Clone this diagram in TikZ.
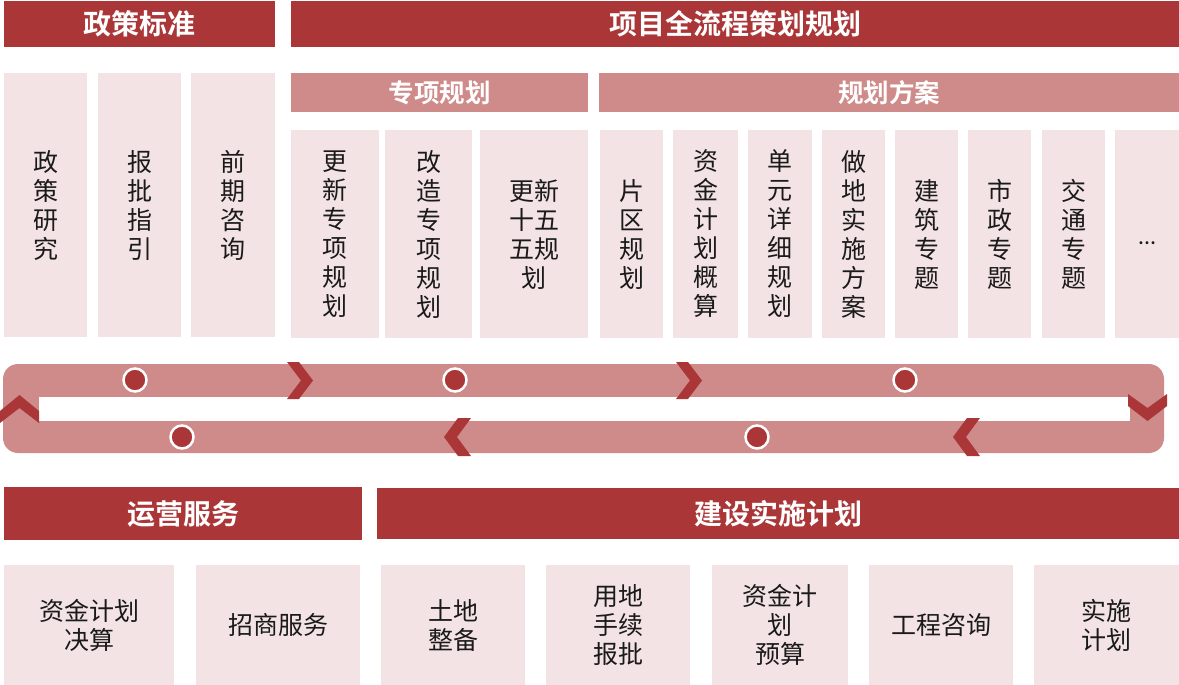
\documentclass[tikz,border=0pt]{standalone}
\usepackage{fontspec}
\setmainfont{Noto Sans CJK SC}[BoldFont={Noto Sans CJK SC Bold}]
\definecolor{dred}{HTML}{AB3637}
\definecolor{mpink}{HTML}{CF8A8A}
\definecolor{lpink}{HTML}{F3E3E4}
\definecolor{ink}{HTML}{1A1A1A}
\tikzset{
 base/.style={inner sep=0pt,outer sep=0pt,anchor=north west,align=center},
 mainbar/.style={base,fill=dred,text=white,font=\fontsize{28}{31}\selectfont\bfseries},
 subbar/.style={base,fill=mpink,text=white,font=\fontsize{25.5}{29}\selectfont\bfseries},
 cell/.style={base,fill=lpink,text=ink,font=\fontsize{25}{29}\selectfont},
 chev/.style={fill=dred},
 band/.style={fill=mpink},
 dot/.style={circle,fill=dred,draw=white,line width=2.5pt,minimum size=23pt,inner sep=0pt},
}
\newcommand\bx[7]{\node[#2,minimum width={(#5-#3)*1pt},minimum height={(#6-#4)*1pt}] (#1) at (#3,#4) {#7};}
\begin{document}
\begin{tikzpicture}[x=1pt,y=-1pt]
\useasboundingbox (0,0) rectangle (1179,685);
% headers
\bx{h1}{mainbar}{4}{1}{275}{47}{政策标准}
\bx{h2}{mainbar}{291}{1}{1179}{47}{项目全流程策划规划}
\bx{s1}{subbar}{291}{73}{588}{112}{专项规划}
\bx{s2}{subbar}{599}{73}{1179}{112}{规划方案}
% left column cells
\bx{p1}{cell}{4}{73}{87}{337}{政\\策\\研\\究}
\bx{p2}{cell}{98}{73}{181}{337}{报\\批\\指\\引}
\bx{p3}{cell}{191}{73}{275}{337}{前\\期\\咨\\询}
% special planning
\bx{z1}{cell}{291}{130}{379}{338}{更\\新\\专\\项\\规\\划}
\bx{z2}{cell}{385}{130}{472}{338}{改\\造\\专\\项\\规\\划}
\bx{z3}{cell}{480}{130}{588}{338}{更新\\十五\\五规\\划}
% planning schemes
\bx{f1}{cell}{600}{130}{663}{338}{片\\区\\规\\划}
\bx{f2}{cell}{673}{130}{738}{338}{资\\金\\计\\划\\概\\算}
\bx{f3}{cell}{748}{130}{812}{338}{单\\元\\详\\细\\规\\划}
\bx{f4}{cell}{822}{130}{885}{338}{做\\地\\实\\施\\方\\案}
\bx{f5}{cell}{895}{130}{958}{338}{建\\筑\\专\\题}
\bx{f6}{cell}{968}{130}{1031}{338}{市\\政\\专\\题}
\bx{f7}{cell}{1042}{130}{1105}{338}{交\\通\\专\\题}
\bx{f8}{cell}{1115}{130}{1179}{338}{}
\node[inner sep=0pt,text=ink,font=\fontsize{16}{18}\selectfont\bfseries] (dots) at (1147,243) {…};
% loop band
\fill[band,rounded corners=15pt] (3,364) rectangle (1164,453);
\fill[white] (39,397) rectangle (1130,421);
\fill[chev] (0,411)--(19.5,395)--(39,411)--(39,423)--(19.5,408)--(0,423)--cycle;
\fill[chev] (1128,394)--(1147.5,408)--(1167,394)--(1167,406)--(1147.5,421)--(1128,406)--cycle;
\foreach \x in {287,676}{
 \fill[chev] (\x,362)--(\x+12,362)--(\x+26,380.5)--(\x+12,399)--(\x,399)--(\x+14,380.5)--cycle;}
\foreach \x in {444,953}{
 \fill[chev] (\x,437)--(\x+14,418)--(\x+27,418)--(\x+13,437)--(\x+27,456)--(\x+14,456)--cycle;}
\node[dot] (c1) at (135,380) {};
\node[dot] (c2) at (455,380) {};
\node[dot] (c3) at (905,380) {};
\node[dot] (c4) at (182,437) {};
\node[dot] (c5) at (757,437) {};
% bottom
\bx{h3}{mainbar}{4}{487}{362}{540}{运营服务}
\bx{h4}{mainbar}{377}{488}{1179}{539}{建设实施计划}
\bx{q1}{cell}{4}{565}{174}{685}{资金计划\\决算}
\bx{q2}{cell}{196}{565}{360}{685}{招商服务}
\bx{q3}{cell}{381}{565}{525}{685}{土地\\整备}
\bx{q4}{cell}{546}{565}{690}{685}{用地\\手续\\报批}
\bx{q5}{cell}{712}{565}{848}{685}{资金计\\划\\预算}
\bx{q6}{cell}{869}{565}{1013}{685}{工程咨询}
\bx{q7}{cell}{1034}{565}{1179}{685}{实施\\计划}
\end{tikzpicture}
\end{document}
